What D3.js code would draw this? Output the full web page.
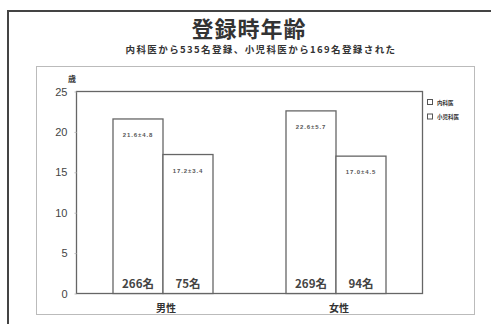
<!DOCTYPE html>
<html>
<head>
<meta charset="utf-8">
<script src="https://cdn.jsdelivr.net/npm/d3@7"></script>
<style>
  html, body { margin: 0; padding: 0; background: #fff; }
  svg { display: block; font-family: "Noto Sans CJK JP", "Noto Sans", sans-serif; }
</style>
</head>
<body>
<svg id="chart" width="491" height="324"></svg>
<script>
// Age at registration, by sex and specialty
const groups = ["男性", "女性"];
const series = ["内科医", "小児科医"];
const meanAge = [
  [21.6, 17.2],   // 男性: 内科医, 小児科医
  [22.6, 17.0]    // 女性: 内科医, 小児科医
];
const sdAge = [
  [4.8, 3.4],
  [5.7, 4.5]
];
const counts = [
  [266, 75],
  [269, 94]
];
const yTicks = [0, 5, 10, 15, 20, 25];

const svg = d3.select("#chart");
const ink = "#333";

// outer frame
svg.append("path")
  .attr("d", "M8,324 L8,11 L491,11")
  .attr("fill", "none").attr("stroke", "#444").attr("stroke-width", 2);

// chart area
svg.append("rect")
  .attr("x", 36.5).attr("y", 66.5).attr("width", 438).attr("height", 248)
  .attr("fill", "none").attr("stroke", "#bbb").attr("stroke-width", 1);

// titles
svg.append("text").attr("x", 249).attr("y", 37).attr("text-anchor", "middle")
  .attr("font-size", 22).attr("font-weight", "bold").attr("fill", ink)
  .attr("letter-spacing", 1)
  .text("登録時年齢");
svg.append("text").attr("x", 261).attr("y", 53).attr("text-anchor", "middle")
  .attr("font-size", 9.5).attr("font-weight", "bold").attr("fill", ink)
  .attr("letter-spacing", 1.4)
  .text("内科医から535名登録、小児科医から169名登録された");

const plot = { left: 76.5, right: 422.5, top: 91.5, bottom: 293.5 };

const x0 = d3.scaleBand().domain(groups).range([plot.left, plot.right]).padding(0);
const x1 = d3.scaleBand().domain(series).range([0, x0.bandwidth()]).paddingInner(0).paddingOuter(0.73);
const y = d3.scaleLinear().domain([0, 25]).range([plot.bottom, plot.top]);

// plot frame
svg.append("rect")
  .attr("x", plot.left).attr("y", plot.top)
  .attr("width", plot.right - plot.left).attr("height", plot.bottom - plot.top)
  .attr("fill", "none").attr("stroke", "#666").attr("stroke-width", 1.3);

// y axis
const yAxis = svg.append("g").attr("transform", `translate(${plot.left},0)`)
  .call(d3.axisLeft(y).tickValues(yTicks).tickSize(2).tickPadding(7).tickFormat(d3.format("d")));
yAxis.select(".domain").remove();
yAxis.selectAll(".tick line").attr("stroke", "#bbb");
yAxis.selectAll(".tick text").attr("font-size", 11).attr("fill", "#444")
  .attr("font-family", "Liberation Sans, Arial, sans-serif");

// unit label
svg.append("text").attr("x", 72).attr("y", 82).attr("text-anchor", "middle")
  .attr("font-size", 8).attr("font-weight", "bold").attr("fill", ink).text("歳");

// bars
const g = svg.append("g").selectAll("g").data(groups).join("g")
  .attr("transform", d => `translate(${x0(d)},0)`);

g.each(function(grp, gi) {
  const sel = d3.select(this);
  series.forEach((s, si) => {
    const v = meanAge[gi][si];
    const bx = x1(s);
    const bw = x1.bandwidth();
    sel.append("rect")
      .attr("x", bx).attr("y", y(v))
      .attr("width", bw).attr("height", y(0) - y(v))
      .attr("fill", "#fff").attr("stroke", "#666").attr("stroke-width", 1.3);
    sel.append("text")
      .attr("x", bx + bw / 2).attr("y", y(v) + 18)
      .attr("text-anchor", "middle").attr("font-size", 6).attr("font-weight", "bold")
      .attr("letter-spacing", 0.9)
      .attr("fill", "#555").attr("font-family", "Liberation Sans, Arial, sans-serif")
      .text(`${v.toFixed(1)}±${sdAge[gi][si].toFixed(1)}`);
    sel.append("text")
      .attr("x", bx + bw / 2).attr("y", y(0) - 6)
      .attr("text-anchor", "middle").attr("font-size", 11.5).attr("font-weight", "bold")
      .attr("fill", "#444")
      .text(`${counts[gi][si]}名`);
  });
  sel.append("text")
    .attr("x", x0.bandwidth() / 2 + 3).attr("y", plot.bottom + 18)
    .attr("text-anchor", "middle").attr("font-size", 10).attr("font-weight", "bold")
    .attr("fill", ink).text(grp);
});

// legend
const lg = svg.append("g").attr("transform", "translate(427,99)");
series.forEach((s, i) => {
  lg.append("rect").attr("x", 0.5).attr("y", i * 14.5 + 0.5).attr("width", 5).attr("height", 5)
    .attr("fill", "#fff").attr("stroke", "#555").attr("stroke-width", 1);
  lg.append("text").attr("x", 10).attr("y", i * 14.5 + 5.5)
    .attr("font-size", 5.5).attr("font-weight", "bold").attr("fill", ink).text(s);
});
</script>
</body>
</html>
